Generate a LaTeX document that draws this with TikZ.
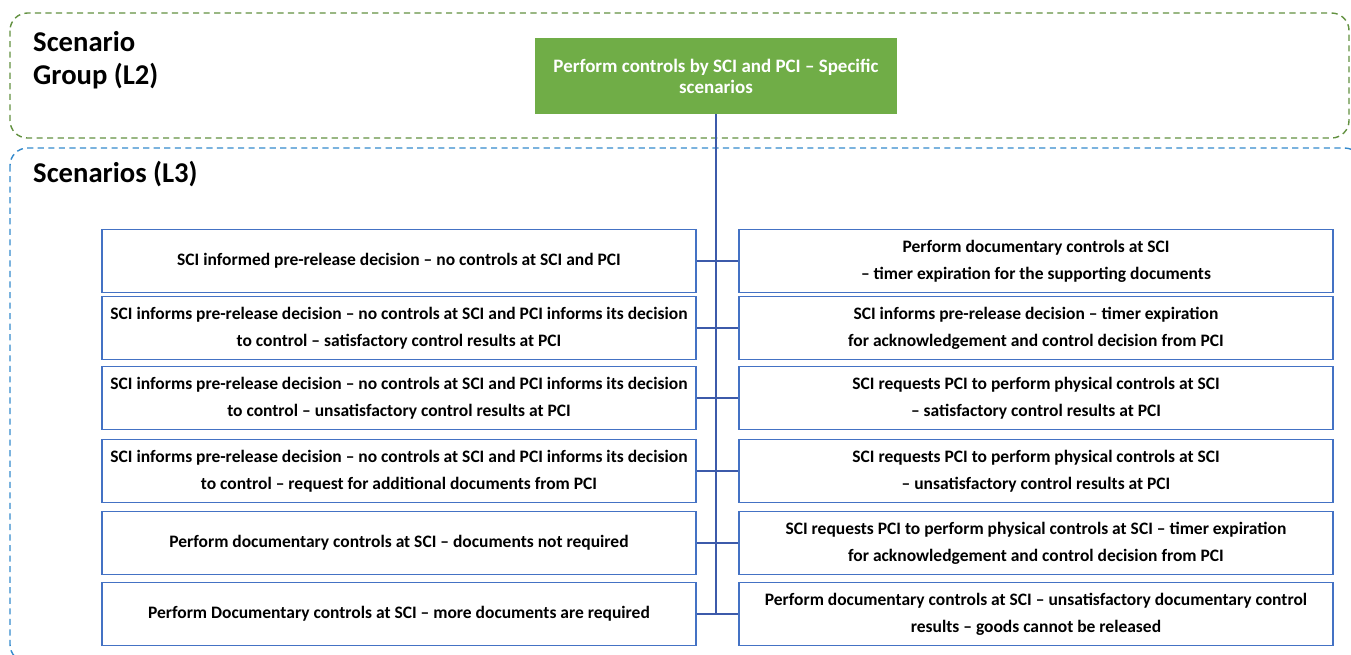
\documentclass[tikz,border=0pt]{standalone}
\usepackage{fontspec}
\setmainfont{Carlito}
\usetikzlibrary{positioning}
\definecolor{grp_green}{RGB}{112,173,71}
\definecolor{grp_edge}{RGB}{98,145,64}
\definecolor{scn_blue}{RGB}{52,138,204}
\definecolor{box_blue}{RGB}{68,114,196}
\definecolor{link_blue}{RGB}{60,90,170}

\begin{document}
\begin{tikzpicture}[x=0.02cm, y=-0.02cm,
    font=\bfseries\fontsize{9.95}{15.3}\selectfont,
    frame/.style={dash pattern=on 3.5pt off 2.5pt, line width=0.8pt, rounded corners=0.35cm},
    title/.style={anchor=north west, align=left, font=\bfseries\fontsize{16.3}{19}\selectfont},
    scn/.style={draw=box_blue, line width=0.9pt, align=center,
                minimum width=11.88cm, minimum height=1.26cm, inner sep=2pt},
    link/.style={draw=link_blue, line width=1pt}]
  \useasboundingbox (0,0) rectangle (1351,654);
  % level frames
  \draw[frame, grp_edge] (10,13) rectangle (1349,138);
  \draw[frame, scn_blue] (10,148) rectangle (1362,662);
  \node[title] (grptitle) at (27,25) {Scenario\\Group (L2)};
  \node[title] (scntitle) at (27,155) {Scenarios (L3)};
  % scenario group
  \node[fill=grp_green, text=white, align=center, minimum width=7.24cm,
        minimum height=1.52cm, font=\bfseries\fontsize{10.8}{12}\selectfont]
        (top) at (716,76) {Perform controls by SCI and PCI -- Specific\\scenarios};
  % scenarios
  \foreach \n/\y/\ltxt/\rtxt in {
      1/261/{SCI informed pre-release decision -- no controls at SCI and PCI}/{Perform documentary controls at SCI\\-- timer expiration for the supporting documents},
      2/328/{SCI informs pre-release decision -- no controls at SCI and PCI informs its decision\\to control -- satisfactory control results at PCI}/{SCI informs pre-release decision -- timer expiration\\for acknowledgement and control decision from PCI},
      3/398/{SCI informs pre-release decision -- no controls at SCI and PCI informs its decision\\to control -- unsatisfactory control results at PCI}/{SCI requests PCI to perform physical controls at SCI\\-- satisfactory control results at PCI},
      4/471/{SCI informs pre-release decision -- no controls at SCI and PCI informs its decision\\to control -- request for additional documents from PCI}/{SCI requests PCI to perform physical controls at SCI\\-- unsatisfactory control results at PCI},
      5/543/{Perform documentary controls at SCI -- documents not required}/{SCI requests PCI to perform physical controls at SCI -- timer expiration\\for acknowledgement and control decision from PCI},
      6/614/{Perform Documentary controls at SCI -- more documents are required}/{Perform documentary controls at SCI -- unsatisfactory documentary control\\results -- goods cannot be released}}{
    \node[scn] (l\n) at (399,\y) {\ltxt};
    \node[scn] (r\n) at (1036,\y) {\rtxt};
    \draw[link] (l\n.east) -- (r\n.west);
  }
  \draw[link] (top.south) -- (top.south |- l6.east);
\end{tikzpicture}
\end{document}
